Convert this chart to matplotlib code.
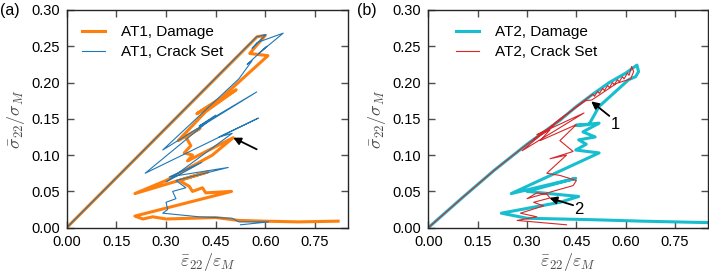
import numpy as np
import matplotlib
matplotlib.use("Agg")
import matplotlib.pyplot as plt

plt.rcParams['font.family'] = ['Liberation Sans', 'DejaVu Sans']
plt.rcParams['mathtext.fontset'] = 'cm'
plt.rcParams['font.size'] = 10

# ---- panel (a): AT1 ----
at1_dmg_x = [0.000, 0.575, 0.600, 0.553, 0.608, 0.470, 0.393, 0.512, 0.420, 0.337,
             0.403, 0.360, 0.375, 0.355, 0.380, 0.365, 0.503, 0.440, 0.300, 0.206,
             0.427, 0.340, 0.370, 0.380, 0.410, 0.420, 0.498, 0.206, 0.230, 0.260,
             0.300, 0.450, 0.520, 0.600, 0.700, 0.820]
at1_dmg_y = [0.000, 0.263, 0.265, 0.240, 0.237, 0.180, 0.157, 0.190, 0.160, 0.120,
             0.137, 0.125, 0.113, 0.103, 0.100, 0.092, 0.124, 0.100, 0.065, 0.047,
             0.077, 0.065, 0.057, 0.050, 0.055, 0.048, 0.050, 0.016, 0.012, 0.015,
             0.012, 0.014, 0.010, 0.009, 0.008, 0.009]

at1_crk_x = [0.000, 0.574, 0.602, 0.560, 0.575, 0.654, 0.580, 0.605, 0.545, 0.560,
             0.520, 0.290, 0.574, 0.400, 0.450, 0.237, 0.579, 0.460, 0.500, 0.300,
             0.408, 0.310, 0.488, 0.330, 0.360, 0.320, 0.330, 0.300, 0.305, 0.290,
             0.400, 0.500, 0.520, 0.610, 0.525]
at1_crk_y = [0.000, 0.263, 0.266, 0.247, 0.255, 0.268, 0.240, 0.250, 0.225, 0.230,
             0.205, 0.107, 0.187, 0.140, 0.155, 0.075, 0.151, 0.125, 0.130, 0.063,
             0.090, 0.070, 0.083, 0.065, 0.055, 0.050, 0.040, 0.035, 0.025, 0.020,
             0.015, 0.013, 0.008, 0.008, 0.004]

# ---- panel (b): AT2 ----
at2_dmg_x = [0.000, 0.100, 0.200, 0.300, 0.400, 0.450, 0.500, 0.550, 0.600, 0.634,
             0.639, 0.630, 0.609, 0.519, 0.488, 0.448, 0.519, 0.470, 0.507, 0.457,
             0.480, 0.448, 0.519, 0.252, 0.448, 0.300, 0.457, 0.400, 0.222, 0.300,
             0.500, 0.650, 0.750, 0.850]
at2_dmg_y = [0.000, 0.040, 0.079, 0.115, 0.148, 0.167, 0.184, 0.200, 0.213, 0.224,
             0.215, 0.208, 0.204, 0.167, 0.142, 0.141, 0.144, 0.132, 0.125, 0.121,
             0.115, 0.107, 0.103, 0.047, 0.068, 0.050, 0.043, 0.035, 0.020, 0.013,
             0.011, 0.009, 0.008, 0.007]

at2_crk_x = [0.000, 0.100, 0.200, 0.300, 0.400, 0.450, 0.500, 0.505, 0.515, 0.520,
             0.530, 0.535, 0.545, 0.550, 0.560, 0.565, 0.575, 0.580, 0.590, 0.595,
             0.605, 0.610, 0.618, 0.624, 0.615, 0.573, 0.497, 0.478, 0.400, 0.285,
             0.473, 0.330, 0.380, 0.320, 0.370, 0.340, 0.450, 0.400, 0.440, 0.370,
             0.420, 0.360, 0.400, 0.450, 0.440, 0.300, 0.330, 0.360, 0.370, 0.320,
             0.350, 0.280, 0.330, 0.270, 0.420]
at2_crk_y = [0.000, 0.040, 0.079, 0.115, 0.148, 0.167, 0.184, 0.181, 0.188, 0.185,
             0.192, 0.189, 0.196, 0.193, 0.200, 0.197, 0.204, 0.201, 0.208, 0.205,
             0.213, 0.210, 0.222, 0.215, 0.205, 0.199, 0.176, 0.175, 0.150, 0.106,
             0.158, 0.128, 0.140, 0.122, 0.135, 0.120, 0.142, 0.120, 0.105, 0.095,
             0.100, 0.075, 0.072, 0.065, 0.058, 0.040, 0.048, 0.046, 0.041, 0.035,
             0.030, 0.020, 0.015, 0.010, 0.004]

xticks = [0.00, 0.15, 0.30, 0.45, 0.60, 0.75]
yticks = [0.00, 0.05, 0.10, 0.15, 0.20, 0.25, 0.30]

fig = plt.figure(figsize=(7.09, 2.76), dpi=100)
ax1 = fig.add_axes([0.0941, 0.175, 0.3968, 0.789])
ax2 = fig.add_axes([0.6041, 0.175, 0.3945, 0.789])


def style(ax):
    ax.set_xlim(0, 0.85)
    ax.set_ylim(0, 0.30)
    ax.set_xticks(xticks)
    ax.set_yticks(yticks)
    ax.set_xticklabels(["%.2f" % v for v in xticks])
    ax.set_yticklabels(["%.2f" % v for v in yticks])
    ax.tick_params(direction='in', top=True, right=True, length=5, width=1,
                   color='0.3', labelsize=10.5, pad=5)
    for s in ax.spines.values():
        s.set_linewidth(1.0)
        s.set_color('0.15')
    ax.set_xlabel(r'$\bar{\varepsilon}_{22}/\varepsilon_M$', color='0.3', fontsize=13, labelpad=2)
    ax.set_ylabel(r'$\bar{\sigma}_{22}/\sigma_M$', color='0.3', fontsize=13, labelpad=3)


leg_kw = dict(loc='upper left', frameon=False, fontsize=11, handlelength=1.5,
              handletextpad=1.05, borderpad=0, borderaxespad=0, labelspacing=0.4)
arr = dict(arrowstyle='-|>', color='k', lw=1.3, mutation_scale=11, shrinkA=0, shrinkB=0)

ax1.plot(at1_dmg_x, at1_dmg_y, color='#ff7f0e', lw=2.2, label='AT1, Damage')
ax1.plot(at1_crk_x, at1_crk_y, color='#1f77b4', lw=0.8, label='AT1, Crack Set')
style(ax1)
ax1.legend(bbox_to_anchor=(0.054, 0.93), **leg_kw)
ax1.annotate('', xy=(0.503, 0.124), xytext=(0.574, 0.108), arrowprops=arr)

ax2.plot(at2_dmg_x, at2_dmg_y, color='#17becf', lw=2.2, label='AT2, Damage')
ax2.plot(at2_crk_x, at2_crk_y, color='#d62728', lw=0.8, label='AT2, Crack Set')
style(ax2)
ax2.legend(bbox_to_anchor=(0.10, 0.93), **leg_kw)
ax2.annotate('', xy=(0.495, 0.174), xytext=(0.550, 0.154), arrowprops=arr)
ax2.text(0.567, 0.142, '1', fontsize=12, ha='center', va='center')
ax2.annotate('', xy=(0.368, 0.041), xytext=(0.440, 0.031), arrowprops=arr)
ax2.text(0.457, 0.025, '2', fontsize=12, ha='center', va='center')

fig.text(0.0, 0.99, '(a)', fontsize=11.5, va='top', ha='left')
fig.text(0.503, 0.99, '(b)', fontsize=11.5, va='top', ha='left')

fig.savefig('out.png', dpi=100)
